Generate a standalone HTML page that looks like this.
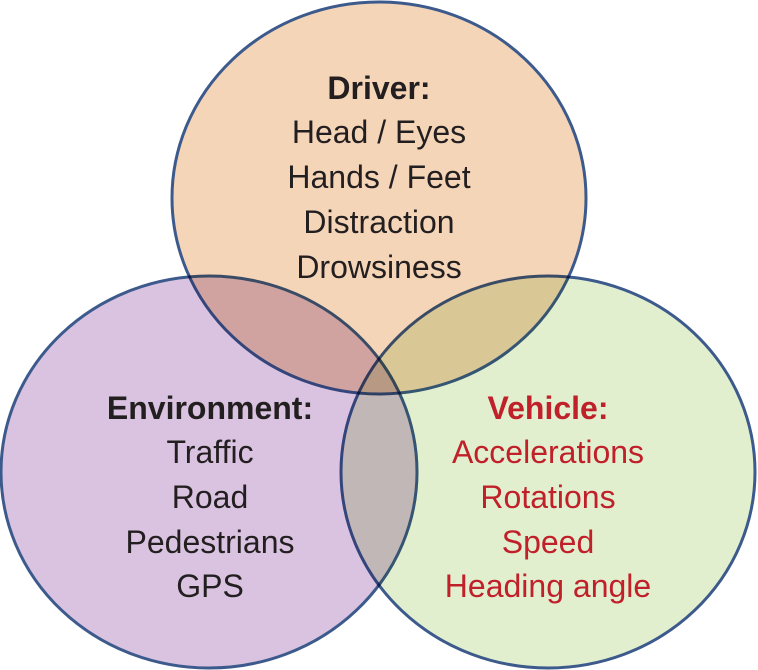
<!DOCTYPE html>
<html><head><meta charset="utf-8"><style>
html,body{margin:0;padding:0;background:#fff;width:758px;height:670px;overflow:hidden}
svg text{font-family:"Liberation Sans",Arial,sans-serif;font-size:32px;text-anchor:middle}
</style></head><body>
<svg width="758" height="670" viewBox="0 0 758 670">
<g style="isolation:isolate">
<ellipse cx="379" cy="198" rx="207" ry="196" fill="#f5d5b8" stroke="#3c5a8c" stroke-width="3"/>
<ellipse cx="209" cy="472" rx="208" ry="196" fill="#d9c3e0" stroke="#3c5a8c" stroke-width="3" style="mix-blend-mode:multiply"/>
<ellipse cx="548" cy="472" rx="207" ry="196" fill="#e2efcf" stroke="#3c5a8c" stroke-width="3" style="mix-blend-mode:multiply"/>
</g>
<g fill="#231f20">
<text x="379" y="99" font-weight="bold">Driver:</text>
<text x="379" y="143">Head / Eyes</text>
<text x="379" y="188">Hands / Feet</text>
<text x="379" y="233">Distraction</text>
<text x="379" y="278">Drowsiness</text>
<text x="210" y="419" font-weight="bold">Environment:</text>
<text x="210" y="463">Traffic</text>
<text x="210" y="508">Road</text>
<text x="210" y="553">Pedestrians</text>
<text x="210" y="597">GPS</text>
</g>
<g fill="#c0202a">
<text x="548" y="419" font-weight="bold">Vehicle:</text>
<text x="548" y="463">Accelerations</text>
<text x="548" y="508">Rotations</text>
<text x="548" y="553">Speed</text>
<text x="548" y="597">Heading angle</text>
</g>
</svg>
</body></html>
